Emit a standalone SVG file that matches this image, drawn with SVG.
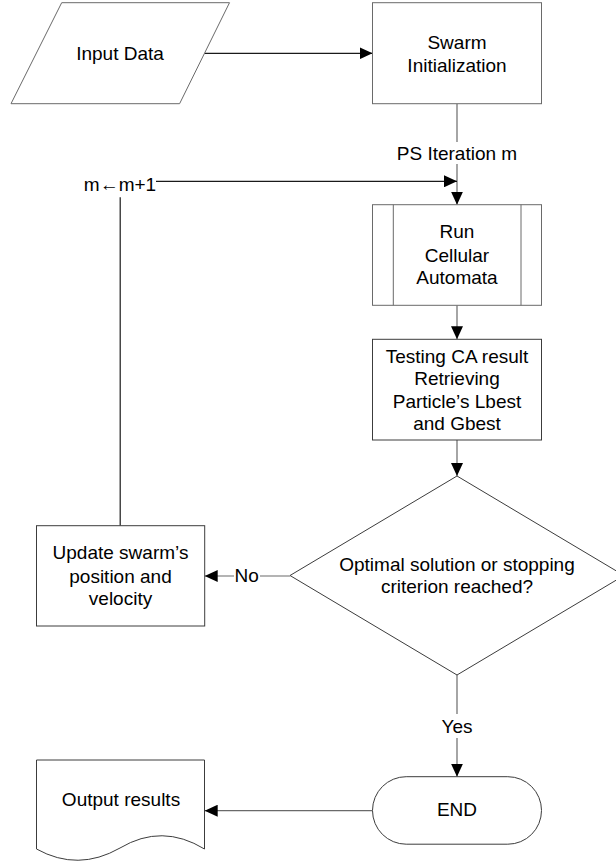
<svg xmlns="http://www.w3.org/2000/svg" width="616" height="865" viewBox="0 0 616 865">
<style>
  .shape { fill: #fff; stroke: #3c3c3c; stroke-width: 1; }
  .light { stroke: #6a6a6a; }
  .conn { fill: none; stroke: #6a6a6a; stroke-width: 1.2; }
  .dark { stroke: #1a1a1a; }
  text { font-family: "Liberation Sans", Arial, sans-serif; font-size: 19px; fill: #000; text-anchor: middle; }
  .lblbg { fill: #fff; stroke: none; }
</style>
<defs>
  <marker id="arrow" markerUnits="userSpaceOnUse" markerWidth="14" markerHeight="12" refX="13" refY="6" orient="auto">
    <path d="M0,0 L13,6 L0,12 z" fill="#000"/>
  </marker>
</defs>
<rect width="616" height="865" fill="#fff"/>

<g id="connectors">
  <line class="conn dark" x1="204.5" y1="53.3" x2="372.5" y2="53.3" marker-end="url(#arrow)"/>
  <line class="conn" x1="457" y1="103.7" x2="457" y2="204.7" marker-end="url(#arrow)"/>
  <rect class="lblbg" x="394" y="142" width="126" height="22"/>
  <text x="457" y="160">PS Iteration m</text>
  <polyline class="conn dark" points="120.2,525.7 120.2,197.3"/>
  <line class="conn dark" x1="156" y1="181.3" x2="457" y2="181.3" marker-end="url(#arrow)"/>
  <text x="120" y="190.7">m←m+1</text>
  <line class="conn" x1="457" y1="305.3" x2="457" y2="339.3" marker-end="url(#arrow)"/>
  <line class="conn" x1="457" y1="440" x2="457" y2="476" marker-end="url(#arrow)"/>
  <line class="conn" x1="290" y1="576" x2="204.7" y2="576" marker-end="url(#arrow)"/>
  <rect class="lblbg" x="234" y="565" width="26" height="22"/>
  <text x="246.7" y="581.7">No</text>
  <line class="conn" x1="457" y1="675" x2="457" y2="776.7" marker-end="url(#arrow)"/>
  <rect class="lblbg" x="439" y="714" width="36" height="24"/>
  <text x="457" y="732.6">Yes</text>
  <line class="conn" x1="372.5" y1="810.7" x2="204.7" y2="810.7" marker-end="url(#arrow)"/>
</g>

<g id="input-data">
  <polygon class="shape light" points="61.7,2.7 229.5,2.7 179.6,103.7 11,103.7"/>
  <text x="120" y="59.5">Input Data</text>
</g>

<g id="swarm-init">
  <rect class="shape light" x="372.5" y="2.7" width="169" height="101"/>
  <text x="457" y="49">Swarm</text>
  <text x="457" y="71.6">Initialization</text>
</g>

<g id="run-ca">
  <rect class="shape light" x="372.5" y="204.7" width="169" height="100.6"/>
  <line class="shape light" x1="393.3" y1="204.7" x2="393.3" y2="305.3"/>
  <line class="shape light" x1="521" y1="204.7" x2="521" y2="305.3"/>
  <text x="457" y="238.3">Run</text>
  <text x="457" y="261.6">Cellular</text>
  <text x="457" y="284">Automata</text>
</g>

<g id="testing">
  <rect class="shape" x="372.5" y="339.3" width="169" height="100.7"/>
  <text x="457" y="362.6">Testing CA result</text>
  <text x="457" y="385">Retrieving</text>
  <text x="457" y="407.6">Particle’s Lbest</text>
  <text x="457" y="430">and Gbest</text>
</g>

<g id="decision">
  <polygon class="shape" points="457,476 624,575.5 457,675 290,575.5"/>
  <text x="457" y="570.6">Optimal solution or stopping</text>
  <text x="457" y="593.3">criterion reached?</text>
</g>

<g id="update">
  <rect class="shape" x="36.5" y="525.7" width="168.2" height="100.3"/>
  <text x="120.5" y="559.3">Update swarm’s</text>
  <text x="120.5" y="582.6">position and</text>
  <text x="120.5" y="605.3">velocity</text>
</g>

<g id="end">
  <rect class="shape" x="372.5" y="776.7" width="169" height="67.5" rx="33.7" ry="33.7"/>
  <text x="457" y="816.3">END</text>
</g>

<g id="output">
  <path class="shape" d="M36.5,760 H204.5 V849 Q162,823 120,848 Q78,872 36.5,849 Z"/>
  <text x="121" y="806">Output results</text>
</g>
</svg>
